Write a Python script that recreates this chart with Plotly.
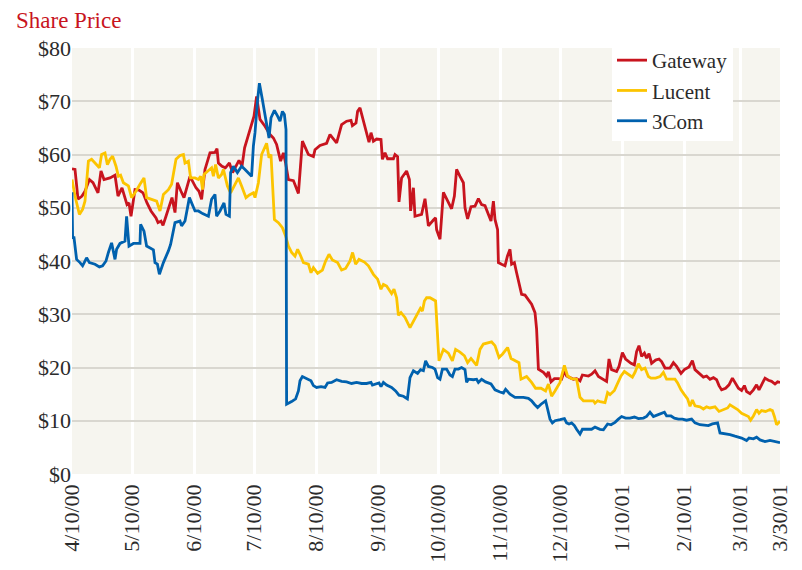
import pandas as pd
import plotly.graph_objects as go

BASE = pd.Timestamp("2000-04-10")

# Day offsets from 4/10/00 and share prices ($)
gw_days = [0, 1.5, 3, 5, 6.5, 8.7, 10.5, 13, 14.5, 16, 19, 21.5, 23, 25, 27.5, 28.5, 29.5, 31.5, 33.5,
           35.5, 37.5, 39.5, 42, 43, 44.5, 45.5, 47, 50, 51.5, 52.7, 54.5, 56, 59, 60.5, 62, 63.5, 64.8,
           66.5, 69, 71.5, 72.5, 73.2, 75, 76.7, 78.7, 80.3, 82, 83.5, 85, 86.3, 88, 89.8, 91, 92.3,
           94, 96.5, 99, 100.7, 102.3, 104.3, 105.7, 106.8, 108.2, 110.7, 113.2, 115.2, 118.2, 120.7,
           121.5, 124, 127.3, 129, 132.3, 134.8, 137.3, 139.5, 140.2, 142, 142.8, 144, 146.5, 147.8,
           148.5, 149.5, 150.7, 152.3, 154.5, 155.2, 156.5, 157.8, 160.7, 161.5, 162.8, 163.5, 164.8,
           167.3, 168.7, 169.3, 170.7, 171.5, 173.2, 174.8, 176.5, 178.2, 180.7, 181.8, 182.3, 184,
           185.7, 187.3, 189.8, 191.2, 192.3, 194, 195.7, 196.5, 197.8, 199.5, 201.5, 203.2, 204.8,
           206.5, 208.2, 209.5, 210.7, 211.5, 212.8, 213.2, 214.8, 216.5, 217.7, 219, 219.8, 221.2,
           222.3, 223.5, 224.8, 226.5, 228.2, 229.8, 231.5, 232.3, 233.2, 235.7, 237.3, 238.2, 239.5,
           241.2, 243.2, 244.8, 246.2, 247.3, 249, 250.7, 252.3, 254, 255.2, 258.2, 259.8, 261.5,
           263.2, 265.7, 267.3, 268.5, 269.8, 272.3, 273.5, 275.2, 276.8, 279.5, 281.2, 282.3, 283.5,
           284.8, 286.2, 287.3, 288.5, 289.8, 291.8, 293.5, 294.8, 296.5, 299, 300.7, 302.3, 304.5,
           306.2, 308.5, 310.2, 311.5, 314, 315.7, 317.3, 319, 320.7, 322.3, 323.5, 324.8, 326.8,
           328.5, 330.2, 331.5, 333.2, 334.8, 336.2, 337.3, 339, 340.7, 342.3, 343.5, 344.8, 346.5,
           348.2, 349.8, 351.5, 352.8, 354]
gw_vals = [57.3, 57.2, 51.6, 52.2, 53.1, 55.3, 54.7, 52.8, 56.9, 55.3, 55.6, 56.1, 52.2, 53.75, 50.6,
           50.9, 48.4, 53.4, 53.3, 52.8, 50.9, 49.4, 48.1, 47.2, 47.5, 46.7, 48.4, 51.9, 49.1, 54.7,
           53.1, 51.9, 55.9, 54.7, 53.75, 53.1, 51.6, 57.2, 60.3, 60.4, 61.1, 58.4, 57.8, 57.5, 58.4,
           56.6, 57.8, 58.9, 57.8, 61.25, 63.4, 65.9, 67.2, 70.9, 66.6, 65.3, 63.75, 63.1, 61.9,
           58.75, 60.3, 58.4, 55.3, 55.1, 52.7, 62.5, 60.0, 59.6, 60.9, 61.7, 62.1, 63.75, 62.2, 65.6,
           66.25, 66.4, 65.4, 65.9, 68.1, 68.75, 65.3, 63.75, 62.3, 64.1, 62.5, 62.9, 62.8, 59.1, 60.3,
           59.2, 59.2, 60.0, 59.6, 51.1, 55.6, 56.9, 55.3, 49.4, 53.75, 48.4, 48.6, 48.75, 51.7,
           46.6, 47.7, 48.1, 45.9, 44.1, 52.9, 51.6, 49.8, 52.2, 57.2, 55.9, 54.7, 50.0, 47.9, 50.2,
           50.3, 51.7, 50.6, 50.4, 48.9, 47.5, 51.25, 47.8, 45.9, 39.7, 39.4, 39.1, 40.9, 42.2, 39.4,
           39.7, 37.8, 35.9, 33.75, 33.6, 32.8, 31.9, 30.3, 27.2, 19.7, 19.1, 18.4, 19.2, 17.3, 17.9,
           17.9, 17.8, 19.4, 18.4, 18.1, 17.8, 17.9, 17.5, 18.6, 18.4, 18.75, 19.4, 18.3, 17.7, 17.4,
           21.6, 19.6, 19.25, 20.2, 22.8, 21.6, 20.8, 20.5, 23.0, 24.1, 22.1, 22.7, 21.75, 22.6, 20.8,
           21.4, 21.6, 21.1, 19.9, 19.9, 20.9, 20.2, 18.9, 19.6, 20.1, 21.3, 19.6, 18.8, 18.2, 18.4,
           17.8, 18.1, 17.7, 16.6, 15.8, 16.1, 16.75, 18.0, 17.1, 16.1, 15.7, 16.6, 15.5, 15.1, 15.8,
           16.75, 15.8, 16.75, 18.0, 17.6, 17.4, 16.9, 17.3, 17.2]

lu_days = [0, 1.5, 3.7, 5.3, 6.5, 8.2, 9.8, 12.3, 13.7, 14.8, 16.5, 17.7, 19, 20.3, 22, 23.2, 24.3,
           25.7, 28.2, 29.8, 31.5, 34, 36, 37.3, 39.8, 42.3, 44, 45.7, 48.2, 49.8, 52, 54, 55.7,
           56.5, 58.2, 59.3, 61.5, 63.2, 64.3, 65.3, 66, 68.2, 69.8, 70.7, 71.8, 73.2, 74.8, 75.7,
           77.7, 79.3, 81.5, 83.2, 84.8, 87, 88.7, 90.7, 91.5, 93.2, 94.8, 97.3, 98.5, 99.5, 101.2,
           103.2, 105.2, 106.8, 108.2, 109.8, 111.5, 112.8, 114, 115.7, 118.2, 119.5, 120.7, 122.8,
           125.2, 126.8, 128.5, 130.2, 132.8, 134.8, 136.8, 139, 140.3, 141.8, 143.5, 146.2, 148.2,
           150.7, 152.8, 154.5, 155.7, 157.3, 159.8, 161, 162.3, 163.2, 164.5, 166.5, 169, 170.7,
           172.3, 174.2, 175.2, 176.2, 177.3, 179, 181.8, 182.8, 183.5, 185.7, 188.2, 190.2, 191.8,
           194, 196.2, 197.8, 199.5, 202.3, 204, 205.7, 207.8, 209.8, 211.5, 213.5, 215.2, 217.8,
           219.5, 221.5, 223.5, 224.5, 227.3, 229.8, 231.8, 234.5, 236.8, 238.2, 239.8, 241.5, 244,
           246.2, 247.8, 249.8, 252.3, 254, 255.7, 258.2, 260.7, 261.5, 262.8, 264, 266.5, 267.8,
           269, 271.2, 272.8, 274.5, 276.2, 277.8, 280.2, 281.5, 283.2, 284.8, 286.5, 288.2, 289.5,
           291.8, 294, 295.7, 297.3, 299.5, 301.5, 302.8, 304.5, 306.2, 307.8, 309, 310.2, 311.5,
           314, 315.7, 317.3, 319, 321.5, 323.5, 325.7, 327.8, 329, 330.7, 332.8, 334.8, 336.5,
           338.2, 339.3, 340.7, 342.3, 343.5, 344.8, 346.8, 349, 350.2, 351.2, 352.3, 354]
lu_vals = [55.3, 52.2, 48.75, 49.7, 51.25, 58.75, 59.1, 58.1, 57.5, 60.0, 60.3, 58.1, 59.1, 59.7, 57.8,
           55.9, 56.1, 54.7, 54.1, 51.9, 52.8, 54.4, 55.6, 51.9, 51.6, 51.25, 49.4, 52.5, 53.4, 54.4,
           59.1, 59.8, 60.0, 58.4, 58.75, 55.6, 55.6, 55.3, 55.9, 53.4, 56.25, 56.9, 57.5, 55.9, 58.1,
           55.6, 56.25, 57.2, 54.1, 52.8, 54.4, 55.6, 54.1, 51.9, 52.4, 52.8, 51.9, 54.7, 60.0, 62.1,
           59.4, 60.0, 47.8, 47.2, 46.25, 44.7, 42.8, 41.6, 40.9, 42.2, 41.25, 39.7, 39.4, 37.8, 38.75,
           37.7, 38.3, 40.0, 41.25, 40.2, 39.7, 38.3, 38.6, 40.0, 41.6, 39.4, 40.3, 39.8, 39.1, 37.5,
           36.6, 34.7, 35.6, 35.3, 33.9, 34.7, 33.1, 29.8, 30.3, 29.4, 27.5, 28.75, 29.7, 31.1, 30.6,
           32.5, 33.1, 33.1, 32.5, 24.1, 21.25, 23.4, 22.7, 21.25, 23.4, 22.9, 22.2, 20.9, 21.7, 20.4,
           23.4, 24.4, 24.6, 24.8, 24.1, 21.9, 22.5, 23.75, 21.7, 21.25, 20.9, 17.8, 18.3, 17.2, 16.1,
           16.1, 15.6, 16.9, 14.6, 15.6, 17.2, 20.4, 18.4, 17.9, 17.8, 14.4, 13.75, 13.75, 13.75, 13.3,
           13.75, 13.6, 13.4, 15.3, 14.9, 15.7, 16.9, 18.4, 19.25, 18.8, 18.2, 19.1, 20.7, 19.6, 19.9,
           18.3, 18.0, 18.0, 18.3, 19.1, 17.8, 17.8, 17.8, 17.1, 15.8, 14.9, 14.1, 12.7, 13.9, 12.8,
           12.6, 12.2, 12.6, 12.4, 12.6, 11.75, 12.1, 12.4, 13.0, 12.6, 12.1, 11.4, 11.1, 10.8, 10.1,
           10.9, 12.1, 11.4, 11.9, 11.75, 12.1, 11.9, 10.8, 9.25, 9.9]

tc_days = [0, 0.3, 1, 2.3, 4, 5.3, 7.3, 8.7, 11.5, 13.7, 15.3, 17, 18.2, 19.8, 21.5, 22.3, 24, 26.5,
           27.3, 28.5, 30.7, 32.3, 34, 34.3, 36, 37.3, 39, 40.7, 41.5, 42.7, 43.7, 45.7, 48.2, 49.3,
           51.5, 54, 54.8, 56.5, 58.7, 61.5, 63.2, 65.3, 68.2, 69.8, 71.5, 72.3, 74, 76, 77, 78.7,
           79.3, 80.7, 82.7, 84.8, 86.5, 88.2, 89.8, 90.7, 91.5, 92.8, 93.7, 95.2, 96.8, 98.5, 99.5,
           101.2, 102.8, 104, 105.2, 106.2, 107, 107.3, 109.8, 111.8, 113.2, 114, 115.2, 117.3, 119.5,
           120.7, 122.3, 124.5, 126.5, 127.8, 129.8, 132.3, 134.8, 137.3, 139.8, 142.3, 144.8, 147.3,
           149.5, 150.2, 152.3, 153.5, 154.5, 155.7, 157.3, 159.8, 161.8, 163.5, 165.7, 167.7, 169,
           170.7, 172.8, 174.3, 175.7, 176.8, 178.2, 180.2, 181.5, 182.8, 184, 185.2, 187.3, 189,
           190.2, 191.5, 193.2, 194.8, 196.5, 197.3, 198.2, 200.7, 202.3, 203.2, 204.8, 206.8, 209.5,
           211.5, 214, 215.7, 216.8, 219, 221.5, 223.5, 225.7, 228.2, 229.8, 231.2, 232.8, 234.5,
           236.8, 237.8, 239, 240.2, 241.5, 244, 246.2, 247.3, 248.5, 249.8, 251.2, 252.3, 254,
           255.2, 257.3, 259.8, 261.5, 264, 265.7, 267.8, 269.5, 271.5, 273.2, 274.8, 276.8, 279,
           281.2, 283.2, 285.7, 287.3, 289, 290.7, 292.8, 294.5, 296.2, 297.3, 299.5, 301.2, 303.2,
           305.2, 307.3, 309.8, 311.5, 314, 316.2, 318.2, 320.2, 322.8, 324, 326.8, 329, 331.5,
           334.8, 337.3, 338.5, 340.7, 342.3, 344, 346.5, 349, 351.5, 354]
tc_vals = [52.9, 44.4, 44.4, 40.3, 39.7, 39.1, 40.6, 39.7, 39.4, 38.9, 39.1, 40.0, 41.6, 43.4, 40.3,
           42.2, 43.3, 43.75, 48.4, 42.8, 43.3, 43.3, 43.3, 46.9, 45.6, 42.8, 42.5, 42.1, 39.7, 39.4,
           37.5, 39.7, 41.9, 43.1, 47.2, 47.5, 46.6, 47.5, 51.9, 49.4, 49.4, 48.9, 48.4, 51.6, 52.5,
           48.4, 49.4, 50.9, 48.75, 48.4, 56.6, 57.8, 56.6, 57.8, 57.2, 56.6, 55.9, 61.6, 64.1, 70.3,
           73.4, 70.3, 66.6, 63.1, 66.9, 68.3, 67.2, 66.25, 68.1, 67.5, 64.7, 13.1, 13.6, 14.1, 15.6,
           17.5, 18.3, 17.9, 17.5, 16.6, 16.25, 16.4, 16.25, 17.1, 17.2, 17.7, 17.4, 17.3, 17.0, 17.2,
           17.0, 17.0, 17.2, 16.7, 16.9, 17.1, 16.4, 17.2, 16.7, 16.25, 15.6, 14.8, 14.6, 14.1, 18.1,
           19.4, 18.9, 19.6, 19.4, 21.25, 20.2, 20.0, 19.7, 18.1, 17.8, 19.7, 19.7, 18.6, 18.3, 19.7,
           19.7, 20.0, 19.6, 17.2, 17.8, 17.7, 17.8, 17.2, 17.8, 17.3, 16.9, 15.8, 15.4, 15.2, 15.9,
           15.0, 14.4, 14.4, 14.4, 14.2, 13.75, 13.1, 12.5, 13.1, 13.75, 12.2, 10.3, 9.6, 10.0, 10.2,
           10.4, 9.6, 9.4, 9.6, 9.1, 8.4, 7.5, 8.4, 8.4, 8.4, 8.8, 8.4, 8.3, 9.4, 9.25, 9.7, 10.3,
           10.8, 10.5, 10.5, 10.7, 10.4, 10.5, 10.8, 11.6, 10.8, 11.1, 11.3, 11.6, 10.9, 10.9, 10.5,
           10.3, 10.3, 10.1, 10.3, 9.6, 9.25, 9.1, 9.1, 9.4, 9.6, 7.7, 7.6, 7.4, 7.1, 6.75, 6.3, 6.75,
           6.6, 6.9, 6.4, 6.1, 6.3, 6.1, 5.9]

series_names = ["Gateway", "Lucent", "3Com"]
series_colors = ["#c8141e", "#fcc400", "#0061ae"]

tick_dates = ["2000-04-10", "2000-05-10", "2000-06-10", "2000-07-10", "2000-08-10", "2000-09-10",
              "2000-10-10", "2000-11-10", "2000-12-10", "2001-01-10", "2001-02-10", "2001-03-10",
              "2001-03-30"]
tick_labels = ["4/10/00", "5/10/00", "6/10/00", "7/10/00", "8/10/00", "9/10/00", "10/10/00",
               "11/10/00", "12/10/00", "1/10/01", "2/10/01", "3/10/01", "3/30/01"]
y_ticks = [0, 10, 20, 30, 40, 50, 60, 70, 80]
y_labels = ["$0", "$10", "$20", "$30", "$40", "$50", "$60", "$70", "$80"]

FONT = "Liberation Serif"
TXT = "#2b2b2b"
PLOT_W, PLOT_H = 708, 426


def to_dates(days):
    return BASE + pd.to_timedelta(pd.Series(days, dtype=float), unit="D")


fig = go.Figure()
for name, color, days, vals in [
    (series_names[0], series_colors[0], gw_days, gw_vals),
    (series_names[1], series_colors[1], lu_days, lu_vals),
    (series_names[2], series_colors[2], tc_days, tc_vals),
]:
    fig.add_trace(go.Scatter(x=to_dates(days), y=vals, mode="lines", name=name,
                             line=dict(color=color, width=2.8)))

fig.update_layout(
    width=802, height=570,
    margin=dict(l=72, r=22, t=48, b=96, autoexpand=False),
    paper_bgcolor="white",
    plot_bgcolor="#f6f5ef",
    font=dict(family=FONT, size=22, color=TXT),
    showlegend=True,
    legend=dict(x=(612 - 72) / PLOT_W, y=1 + 8 / PLOT_H, xanchor="left", yanchor="top",
                bgcolor="white", borderwidth=0,
                font=dict(family=FONT, size=21, color=TXT),
                itemwidth=30, tracegroupgap=0),
)
fig.add_annotation(text="Share Price", xref="paper", yref="paper",
                   x=-58 / PLOT_W, y=1 + 42 / PLOT_H, xanchor="left", yanchor="top",
                   showarrow=False, font=dict(family=FONT, size=23, color="#c8141e"))

fig.update_xaxes(
    type="date", automargin=False,
    range=[pd.Timestamp("2000-04-10"), pd.Timestamp("2001-03-30")],
    tickmode="array", tickvals=tick_dates, ticktext=tick_labels,
    tickangle=-90, showgrid=True, gridcolor="white", gridwidth=3,
    showline=False, zeroline=False, ticks="", ticklabelstandoff=5,
    tickfont=dict(family=FONT, size=22, color=TXT),
)
fig.update_yaxes(
    range=[0, 80], automargin=False, tickmode="array", tickvals=y_ticks, ticktext=y_labels,
    showgrid=True, gridcolor="#d9d7d0", gridwidth=2,
    zeroline=False, showline=False, ticks="",
    tickfont=dict(family=FONT, size=22, color=TXT),
)

fig.write_html("out.html", config={"displayModeBar": False},
               post_script="document.body.style.margin='0';")
